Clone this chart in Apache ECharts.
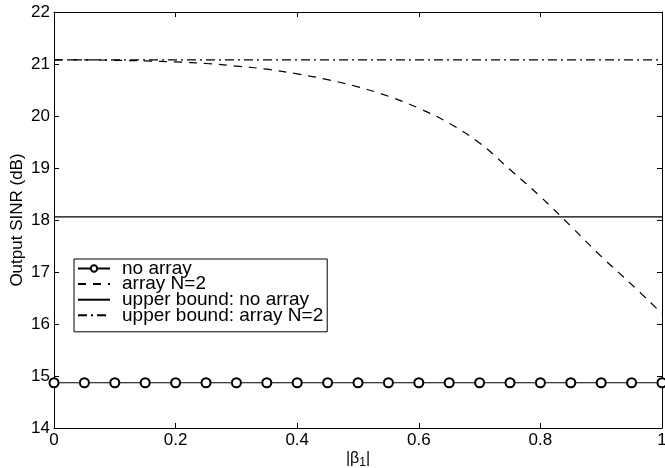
<!DOCTYPE html>
<html>
<head>
<meta charset="utf-8">
<script src="https://cdn.jsdelivr.net/npm/echarts@6/dist/echarts.min.js"></script>
<style>
  html, body { margin: 0; padding: 0; background: #fff; }
  #main { width: 665px; height: 468px; }
</style>
</head>
<body>
<div id="main"></div>
<script>
// |beta_1| samples
const beta = [0, 0.05, 0.1, 0.15, 0.2, 0.25, 0.3, 0.35, 0.4, 0.45, 0.5,
  0.55, 0.6, 0.65, 0.7, 0.75, 0.8, 0.85, 0.9, 0.95, 1];

// output SINR (dB)
const noArray = [14.87, 14.87, 14.87, 14.87, 14.87, 14.87, 14.87, 14.87, 14.87, 14.87, 14.87,
  14.87, 14.87, 14.87, 14.87, 14.87, 14.87, 14.87, 14.87, 14.87, 14.87];
const arrayN2 = [21.08, 21.08, 21.07, 21.06, 21.04, 21.01, 20.96, 20.90, 20.81, 20.70, 20.56,
  20.38, 20.15, 19.86, 19.48, 18.97, 18.45, 17.88, 17.30, 16.76, 16.20];
const boundNoArray = 18.06;
const boundArrayN2 = 21.08;

const seriesNames = ["no array", "array N=2", "upper bound: no array", "upper bound: array N=2"];

const pairs = (ys) => beta.map((b, i) => [b, ys[i]]);
const flat = (v) => [[0, v], [1, v]];

const font = "Liberation Sans";
var chartDom = document.getElementById("main");
var myChart = echarts.init(chartDom);

const tickStyle = { show: true, inside: true, length: 5, lineStyle: { color: "#000", width: 1 } };
const axisLine = { show: true, onZero: false, lineStyle: { color: "#000", width: 1 } };

var option = {
  backgroundColor: "#fff",
  animation: false,
  grid: { left: 54, right: 3, top: 12, bottom: 40, outerBoundsMode: "none", containLabel: false },
  legend: {
    left: 74,
    top: 259,
    orient: "vertical",
    data: seriesNames.map((n, i) => (i === 0 ? { name: n } : { name: n, itemStyle: { opacity: 0 } })),
    itemWidth: 32,
    itemHeight: 8,
    itemGap: -3.4,
    padding: [0, 4, 7, 3],
    borderColor: "#000",
    borderWidth: 1,
    backgroundColor: "#fff",
    textStyle: { fontFamily: font, fontSize: 19, color: "#000", padding: [0, 0, 0, 7] },
  },
  xAxis: [
    {
      type: "value",
      min: 0,
      max: 1,
      interval: 0.2,
      axisLine: axisLine,
      axisTick: tickStyle,
      splitLine: { show: false },
      axisLabel: {
        fontFamily: font, fontSize: 17, color: "#000", margin: 4,
        formatter: (v) => (v === 0 || v === 1 ? String(v) : v.toFixed(1)),
      },
      name: "{a||β}{s|1}{a||}",
      nameLocation: "middle",
      nameGap: 20,
      nameMoveOverlap: false,
      nameTextStyle: {
        fontFamily: font, fontSize: 16, color: "#000",
        rich: {
          a: { fontFamily: font, fontSize: 16, color: "#000" },
          s: { fontFamily: font, fontSize: 12, color: "#000", verticalAlign: "bottom", padding: [9, 0, 0, 0] },
        },
      },
    },
    {
      type: "value",
      position: "top",
      min: 0,
      max: 1,
      interval: 0.2,
      axisLine: axisLine,
      axisTick: tickStyle,
      axisLabel: { show: false },
      splitLine: { show: false },
    },
  ],
  yAxis: [
    {
      type: "value",
      min: 14,
      max: 22,
      interval: 1,
      axisLine: axisLine,
      axisTick: tickStyle,
      splitLine: { show: false },
      axisLabel: { fontFamily: font, fontSize: 17, color: "#000", margin: 4 },
      name: "Output SINR (dB)",
      nameLocation: "middle",
      nameGap: 28,
      nameMoveOverlap: false,
      nameTextStyle: { fontFamily: font, fontSize: 17, color: "#000" },
    },
    {
      type: "value",
      position: "right",
      min: 14,
      max: 22,
      interval: 1,
      axisLine: axisLine,
      axisTick: tickStyle,
      axisLabel: { show: false },
      splitLine: { show: false },
    },
  ],
  series: [
    {
      name: seriesNames[0],
      type: "line",
      data: pairs(noArray),
      symbol: "emptyCircle",
      symbolSize: 9,
      itemStyle: { color: "#000", borderWidth: 1.2 },
      lineStyle: { color: "#000", width: 1.2 },
      z: 5,
    },
    {
      name: seriesNames[1],
      type: "line",
      data: pairs(arrayN2),
      smooth: 0.4,
      symbol: "none",
      itemStyle: { color: "#000" },
      lineStyle: { color: "#000", width: 1.2, type: [8, 7] },
    },
    {
      name: seriesNames[2],
      type: "line",
      data: flat(boundNoArray),
      symbol: "none",
      itemStyle: { color: "#000" },
      lineStyle: { color: "#000", width: 1.3 },
    },
    {
      name: seriesNames[3],
      type: "line",
      data: flat(boundArrayN2),
      symbol: "none",
      itemStyle: { color: "#000" },
      lineStyle: { color: "#000", width: 1.3, type: [9, 4, 2, 4] },
    },
  ],
};

myChart.setOption(option);
</script>
</body>
</html>
